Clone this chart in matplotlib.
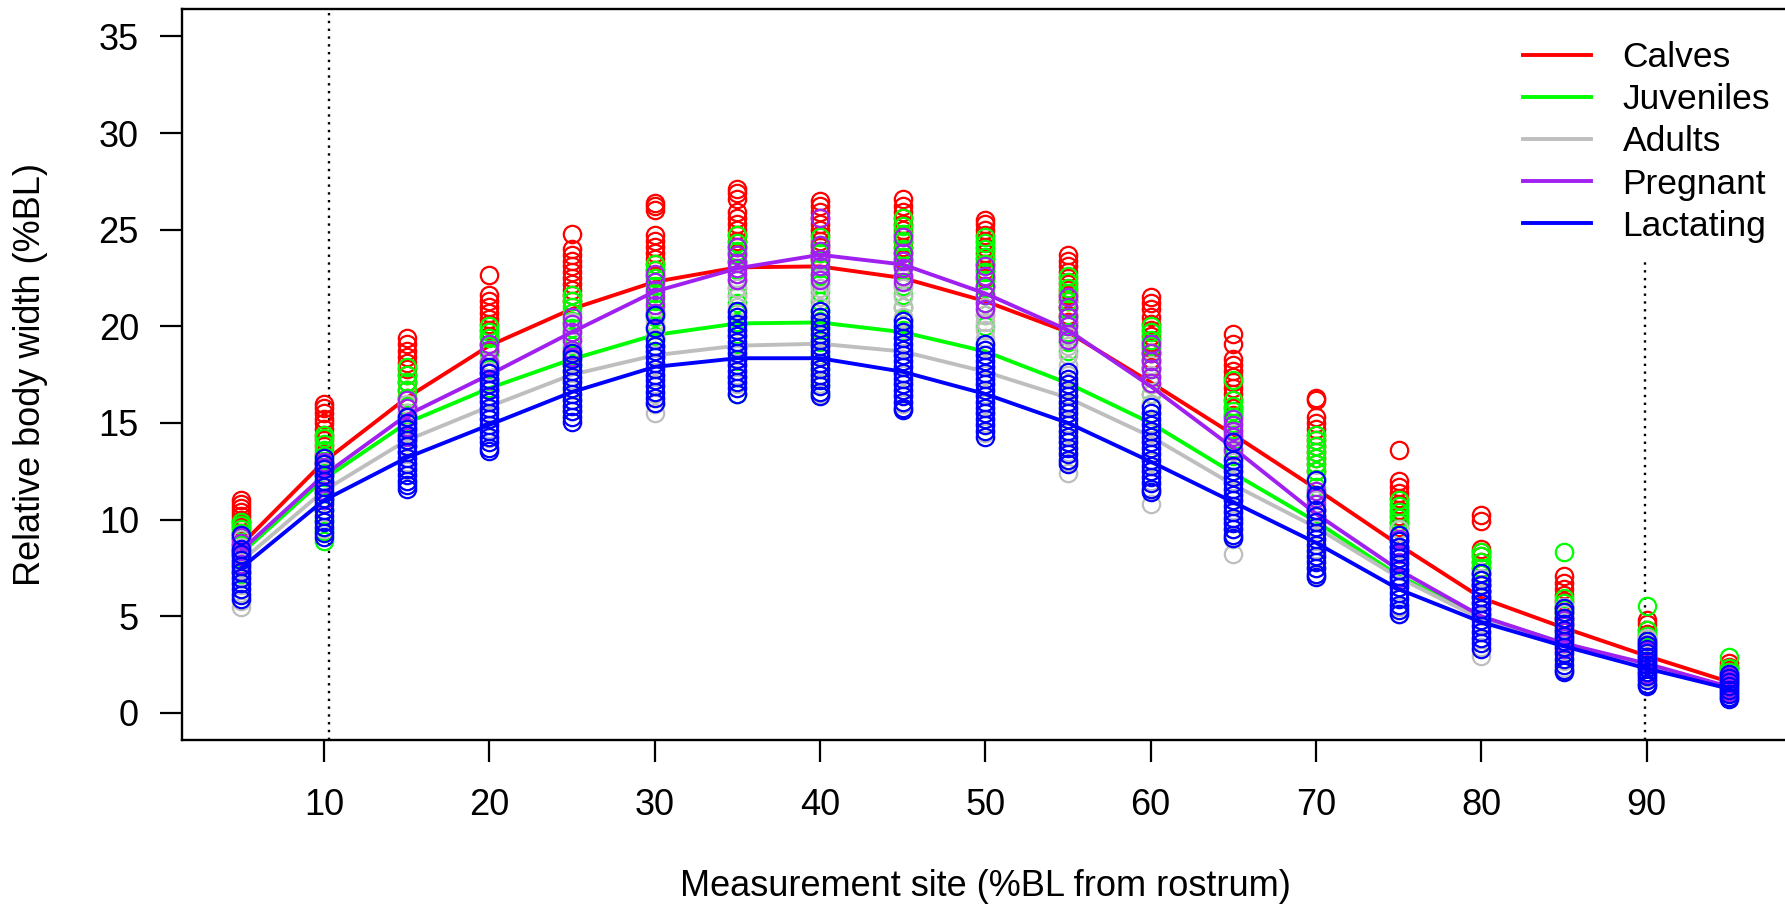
import numpy as np
import matplotlib.pyplot as plt

plt.rcParams['font.family'] = ['Liberation Sans', 'DejaVu Sans']

# --- data ---
sites = [5, 10, 15, 20, 25, 30, 35, 40, 45, 50, 55, 60, 65, 70, 75, 80, 85, 90, 95]
groups = ["Calves", "Juveniles", "Adults", "Pregnant", "Lactating"]
colors = ["#FF0000", "#00FF00", "#BEBEBE", "#A020F0", "#0000FF"]

# fitted mean width per site
calves_fit = [8.7, 13.0, 16.3, 19.0, 20.9, 22.3, 23.05, 23.1, 22.5, 21.3, 19.7, 17.1, 14.4, 11.6, 8.7, 5.95, 4.4, 2.95, 1.6]
juveniles_fit = [8.25, 12.1, 15.0, 16.8, 18.3, 19.55, 20.15, 20.2, 19.7, 18.7, 17.05, 15.0, 12.4, 9.9, 7.1, 4.95, 3.6, 2.45, 1.3]
adults_fit = [7.85, 11.5, 14.1, 15.85, 17.5, 18.5, 19.0, 19.1, 18.7, 17.65, 16.3, 14.3, 11.8, 9.6, 7.0, 4.85, 3.55, 2.45, 1.3]
pregnant_fit = [8.4, 12.3, 15.4, 17.5, 19.7, 21.8, 23.0, 23.7, 23.2, 21.7, 19.8, 16.9, 13.7, 10.3, 7.4, 5.0, 3.6, 2.55, 1.35]
lactating_fit = [7.5, 11.0, 13.2, 14.9, 16.6, 17.9, 18.35, 18.35, 17.65, 16.5, 15.0, 13.0, 10.9, 8.8, 6.4, 4.7, 3.45, 2.3, 1.25]

# observed widths, one list per site
calves_obs = [
    [11.0, 10.8, 10.6, 10.4, 10.2, 10.0, 9.8, 9.6, 9.3, 9.0, 8.7, 8.4],
    [16.0, 15.8, 15.5, 15.2, 15.0, 14.7, 14.4, 14.1, 13.8, 13.4, 13.0, 12.5],
    [19.4, 19.1, 18.7, 18.4, 18.1, 17.8, 17.5, 17.1, 16.7, 16.3, 15.9],
    [22.65, 21.6, 21.3, 21.0, 20.7, 20.4, 20.1, 19.8, 19.5, 19.1, 18.7],
    [24.8, 24.0, 23.7, 23.4, 23.1, 22.8, 22.5, 22.2, 21.9, 21.6, 21.3],
    [26.4, 26.2, 26.0, 24.7, 24.4, 24.1, 23.8, 23.5, 23.2, 22.9, 22.6],
    [27.1, 26.9, 26.6, 25.9, 25.6, 25.3, 25.0, 24.7, 24.4, 24.1, 23.8, 23.4],
    [26.5, 26.2, 25.9, 25.6, 25.3, 25.0, 24.7, 24.4, 24.1, 23.8, 23.5],
    [26.6, 26.2, 25.9, 25.6, 25.3, 25.0, 24.7, 24.4, 24.1, 23.8, 23.5, 23.1],
    [25.5, 25.3, 25.0, 24.7, 24.4, 24.1, 23.8, 23.5, 23.2, 22.9, 22.5, 22.1],
    [23.7, 23.4, 23.1, 22.8, 22.5, 22.2, 21.9, 21.6, 21.3, 21.0, 20.6, 20.2],
    [21.5, 21.2, 20.9, 20.5, 20.1, 19.8, 19.5, 19.2, 18.9, 18.6, 18.3, 17.9],
    [19.6, 19.1, 18.3, 18.0, 17.7, 17.4, 17.1, 16.8, 16.5, 16.2, 15.8, 15.4],
    [16.3, 16.2, 15.3, 15.0, 14.7, 14.4, 14.1, 13.8, 13.5, 13.2, 12.9, 12.5],
    [13.6, 12.0, 11.7, 11.4, 11.1, 10.8, 10.5, 10.2, 9.9, 9.6],
    [10.25, 9.95, 8.5, 8.3, 8.1, 7.8, 7.5, 7.2, 6.9, 6.6, 6.3],
    [7.1, 6.7, 6.4, 6.1, 5.8, 5.5, 5.2, 4.9, 4.6],
    [4.8, 4.6, 4.3, 4.1, 3.9, 3.6, 3.3, 3.0],
    [2.6, 2.4, 2.2, 2.0, 1.8, 1.6],
]
juveniles_obs = [
    [9.9, 9.7, 9.5, 9.3, 9.0, 8.7, 8.4, 8.1, 7.8, 7.5, 7.2],
    [14.4, 14.2, 13.9, 13.6, 13.3, 13.0, 12.6, 12.2, 11.8, 11.4, 11.0, 10.5, 10.0, 9.4, 8.9],
    [17.9, 17.5, 17.1, 16.7, 16.3, 15.9, 15.5, 15.1, 14.6, 14.1, 13.5],
    [20.0, 19.7, 19.4, 19.0, 18.6, 18.2, 17.8, 17.3, 16.8, 16.3],
    [21.6, 21.3, 21.0, 20.7, 20.3, 19.9, 19.5, 19.0, 18.5, 18.0],
    [23.2, 22.9, 22.5, 22.1, 21.7, 21.3, 20.9, 20.5, 20.0, 19.5, 19.0, 18.4],
    [24.7, 24.3, 23.9, 23.4, 22.9, 22.4, 22.0, 21.6, 21.2, 20.7, 20.2, 19.6, 18.9, 18.2, 17.4, 16.5],
    [24.6, 24.2, 23.8, 23.4, 23.0, 22.6, 22.2, 21.8, 21.3, 20.8, 20.3, 19.8, 19.2, 18.5, 17.8, 17.0, 16.5],
    [25.6, 25.2, 24.8, 24.4, 24.0, 23.6, 23.1, 22.6, 22.1, 21.6, 21.0, 20.4, 19.8],
    [24.6, 24.3, 24.0, 23.6, 23.2, 22.8, 22.4, 22.0, 21.6, 21.2, 20.6, 20.0],
    [22.6, 22.3, 22.0, 21.7, 21.3, 20.9, 20.5, 20.1, 19.7, 19.2, 18.7],
    [20.0, 19.7, 19.3, 19.0, 18.6, 18.2, 17.8, 17.4, 17.0, 16.5, 16.0],
    [17.2, 16.2, 15.9, 15.6, 15.3, 15.0, 14.7, 14.4, 14.1, 13.7, 13.3],
    [14.4, 14.1, 13.8, 13.5, 13.2, 12.9, 12.5, 12.1, 11.7, 11.3],
    [11.0, 10.7, 10.4, 10.1, 9.8, 9.5, 9.2, 8.9, 8.6, 8.2],
    [8.35, 8.1, 7.8, 7.5, 7.2, 6.9, 6.6, 6.3, 6.0],
    [8.35, 5.95, 5.7, 5.4, 5.1, 4.8, 4.5, 4.2],
    [5.55, 4.3, 4.0, 3.7, 3.4, 3.1, 2.8],
    [2.9, 2.3, 2.1, 1.9, 1.7, 1.5],
]
adults_obs = [
    [9.0, 8.6, 8.2, 7.8, 7.4, 7.0, 6.6, 6.2, 5.8, 5.5],
    [13.0, 12.5, 12.0, 11.5, 11.0, 10.5, 10.0, 9.5],
    [16.0, 15.5, 15.0, 14.5, 14.0, 13.5, 13.0, 12.5, 12.0],
    [18.2, 17.7, 17.2, 16.7, 16.2, 15.7, 15.2, 14.7, 14.2],
    [20.2, 19.7, 19.2, 18.7, 18.2, 17.7, 17.2, 16.7, 16.2, 15.6],
    [20.2, 19.8, 19.4, 19.0, 18.5, 18.0, 17.5, 17.0, 16.5, 16.0, 15.5],
    [22.5, 22.0, 21.5, 21.0, 20.5, 20.0, 19.5, 19.0, 18.5, 18.0, 17.5, 17.0],
    [22.5, 22.0, 21.5, 21.0, 20.5, 20.0, 19.5, 19.0, 18.5, 18.0, 17.5, 17.0, 16.5],
    [22.5, 22.0, 21.5, 21.0, 20.5, 20.0, 19.5, 19.0, 18.5, 18.0, 17.5, 17.0, 16.5, 16.0],
    [21.0, 20.6, 20.2, 19.8, 19.4, 19.0, 18.5, 18.0, 17.5, 17.0, 16.5, 16.0, 15.5, 15.0, 14.5],
    [20.0, 19.5, 19.0, 18.5, 18.0, 17.5, 17.0, 16.5, 16.0, 15.5, 15.0, 14.5, 14.0, 13.5, 13.0, 12.4],
    [18.0, 17.5, 17.0, 16.5, 16.0, 15.5, 15.0, 14.5, 14.0, 13.5, 13.0, 12.5, 12.0, 11.5, 10.8],
    [14.5, 14.0, 13.5, 13.0, 12.5, 12.0, 11.5, 11.0, 10.5, 10.0, 9.5, 9.0, 8.2],
    [12.0, 11.5, 11.0, 10.5, 10.0, 9.5, 9.0, 8.5, 8.0, 7.5, 7.1],
    [9.5, 9.0, 8.5, 8.0, 7.5, 7.0, 6.5, 6.0, 5.5, 5.1],
    [7.0, 6.6, 6.2, 5.8, 5.4, 5.0, 4.6, 4.2, 3.8, 3.4, 2.95],
    [5.5, 5.1, 4.7, 4.3, 3.9, 3.5, 3.1, 2.7, 2.3],
    [3.9, 3.6, 3.3, 3.0, 2.7, 2.4, 2.1, 1.8, 1.5],
    [2.0, 1.8, 1.6, 1.4, 1.2, 1.0, 0.8],
]
pregnant_obs = [
    [9.1, 8.8, 8.4, 8.1, 7.7, 7.3],
    [13.0, 12.7, 12.3, 11.9, 11.5, 11.0],
    [16.2, 15.8, 15.3, 14.8, 14.3, 13.8],
    [19.1, 18.8, 18.1, 17.6, 17.2, 16.7],
    [20.5, 20.1, 19.7, 19.3, 18.8, 18.4],
    [22.7, 22.3, 21.9, 21.5, 21.1, 20.7],
    [24.1, 23.7, 23.3, 23.0, 22.7, 22.4],
    [25.6, 24.2, 23.9, 23.5, 23.1, 22.7, 22.4],
    [24.6, 23.8, 23.4, 23.0, 22.6, 22.3],
    [23.1, 22.6, 22.1, 21.6, 21.2, 20.9],
    [21.5, 21.0, 20.5, 20.0, 19.6, 19.3],
    [19.1, 18.6, 18.2, 17.8, 17.4, 17.05],
    [15.2, 14.9, 14.6, 14.3, 14.0, 13.6],
    [11.5, 11.1, 10.8, 10.5, 10.2, 9.9],
    [9.0, 8.6, 8.2, 7.8, 7.4, 7.0],
    [6.6, 6.3, 6.0, 5.7, 5.4, 5.1],
    [4.8, 4.5, 4.2, 3.9, 3.6, 3.3],
    [3.5, 3.2, 2.9, 2.6, 2.3, 2.0],
    [1.9, 1.7, 1.5, 1.3, 1.1],
]
lactating_obs = [
    [9.2, 8.5, 8.2, 7.9, 7.6, 7.3, 7.0, 6.7, 6.4, 6.1, 5.9],
    [13.2, 12.9, 12.6, 12.3, 12.0, 11.7, 11.4, 11.1, 10.8, 10.5, 10.2, 9.9, 9.6, 9.3, 9.1],
    [15.3, 15.0, 14.7, 14.4, 14.1, 13.8, 13.5, 13.2, 12.9, 12.6, 12.3, 12.0, 11.8, 11.6],
    [17.9, 17.6, 17.3, 17.0, 16.7, 16.4, 16.1, 15.8, 15.5, 15.2, 14.9, 14.6, 14.3, 14.0, 13.7, 13.55],
    [18.6, 18.3, 18.0, 17.7, 17.4, 17.1, 16.8, 16.5, 16.2, 15.9, 15.6, 15.3, 15.05],
    [20.6, 19.9, 19.3, 19.0, 18.7, 18.4, 18.1, 17.8, 17.5, 17.2, 16.9, 16.6, 16.3, 16.05],
    [20.8, 20.5, 20.1, 19.8, 19.5, 19.2, 18.9, 18.6, 18.3, 18.0, 17.7, 17.4, 17.1, 16.8, 16.5],
    [20.8, 20.5, 20.2, 19.9, 19.6, 19.3, 19.0, 18.7, 18.4, 18.1, 17.8, 17.5, 17.2, 16.9, 16.6, 16.4],
    [20.3, 20.0, 19.7, 19.4, 19.1, 18.8, 18.5, 18.2, 17.9, 17.6, 17.3, 17.0, 16.7, 16.4, 16.1, 15.8, 15.65],
    [19.1, 18.8, 18.5, 18.2, 17.9, 17.6, 17.3, 17.0, 16.7, 16.4, 16.1, 15.8, 15.5, 15.2, 14.9, 14.6, 14.3],
    [17.65, 17.3, 17.0, 16.7, 16.4, 16.1, 15.8, 15.5, 15.2, 14.9, 14.6, 14.3, 14.0, 13.7, 13.4, 13.1, 12.9],
    [15.85, 15.5, 15.2, 14.9, 14.6, 14.3, 14.0, 13.7, 13.4, 13.1, 12.8, 12.5, 12.2, 11.9, 11.6, 11.45],
    [14.0, 13.1, 12.8, 12.5, 12.2, 11.9, 11.6, 11.3, 11.0, 10.7, 10.4, 10.1, 9.8, 9.5, 9.2, 9.05],
    [12.05, 11.3, 10.5, 10.2, 9.9, 9.6, 9.3, 9.0, 8.7, 8.4, 8.1, 7.8, 7.5, 7.2, 7.05],
    [9.2, 8.9, 8.6, 8.3, 8.0, 7.7, 7.4, 7.1, 6.8, 6.5, 6.2, 5.9, 5.6, 5.3, 5.1],
    [7.25, 6.9, 6.6, 6.3, 6.0, 5.7, 5.4, 5.1, 4.8, 4.5, 4.2, 3.9, 3.6, 3.3],
    [5.45, 5.2, 4.9, 4.6, 4.3, 4.0, 3.7, 3.4, 3.1, 2.8, 2.5, 2.2, 2.1],
    [3.7, 3.5, 3.3, 3.1, 2.9, 2.7, 2.5, 2.3, 2.1, 1.9, 1.7, 1.5, 1.4],
    [2.0, 1.8, 1.6, 1.4, 1.2, 1.0, 0.85, 0.7],
]

fits = [calves_fit, juveniles_fit, adults_fit, pregnant_fit, lactating_fit]
obs = [calves_obs, juveniles_obs, adults_obs, pregnant_obs, lactating_obs]

# --- figure ---
fig = plt.figure(figsize=(17.85, 9.11), dpi=100)
ax = fig.add_axes([0.1018, 0.1877, 0.9004, 0.8021])

# dotted reference lines (the right one stops below the legend)
ax.axvline(10.3, color="black", linestyle=(0, (1.0, 2.3)), linewidth=1.7, zorder=1)
ax.axvline(89.9, ymax=0.66, color="black", linestyle=(0, (1.0, 2.3)), linewidth=1.7, zorder=1)

handles = []
for name, col, fit, pts in zip(groups, colors, fits, obs):
    xs = np.repeat(sites, [len(p) for p in pts])
    ys = np.concatenate(pts)
    ax.plot(xs, ys, linestyle="none", marker="o", markersize=12.5,
            markerfacecolor="none", markeredgecolor=col, markeredgewidth=1.6)
    ln, = ax.plot(sites, fit, color=col, linewidth=2.8, label=name)
    handles.append(ln)

ax.set_xlim(1.4, 98.6)
ax.set_ylim(-1.4, 36.4)
ax.set_xticks(range(10, 100, 10))
ax.set_yticks(range(0, 40, 5))
ax.tick_params(axis="both", direction="out", length=15.8, width=1.6,
               labelsize=26, color="black")
ax.tick_params(axis="y", pad=15)
ax.tick_params(axis="x", pad=19)
for s in ax.spines.values():
    s.set_linewidth(1.7)

ax.set_xlabel("Measurement site (%BL from rostrum)", fontsize=26, va="center")
ax.xaxis.set_label_coords(0.5, -0.2)
ax.set_ylabel("Relative body width (%BL)", fontsize=26, va="center")
ax.yaxis.set_label_coords(-0.094, 0.5)

ax.legend(handles=handles, loc="upper left", bbox_to_anchor=(0.826, 0.976),
          fontsize=25.5, frameon=True, facecolor="white", edgecolor="none",
          framealpha=1, fancybox=False, borderpad=0.4, borderaxespad=0,
          handlelength=1.9, handletextpad=0.9, labelspacing=0.26)

fig.savefig("out.png", dpi=100)
